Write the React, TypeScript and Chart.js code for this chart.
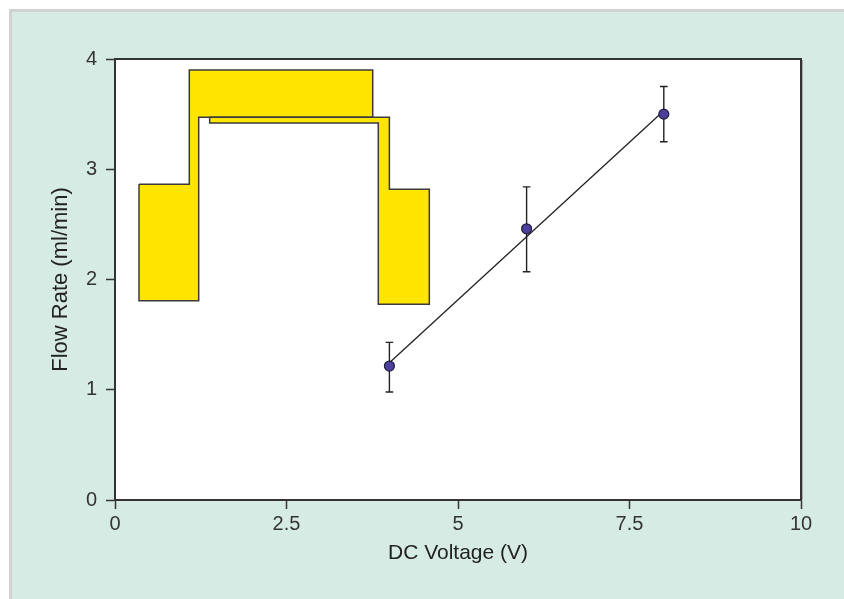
import React, { useEffect, useRef } from 'react';
import { Chart, registerables } from 'chart.js';

Chart.register(...registerables);

// Measurements
const voltage = [4, 6, 8];
const flowRate = [1.215, 2.46, 3.5];
const errLow = [0.98, 2.07, 3.25];
const errHigh = [1.43, 2.84, 3.75];

// Linear fit line
const fitX = [4, 8];
const fitY = [1.245, 3.53];

// Tick labels
const xTicks = [0, 2.5, 5, 7.5, 10];
const yTicks = [0, 1, 2, 3, 4];

// Pump illustration outline (data coordinates)
const pumpLeftX = [0.35, 1.083, 1.083, 3.757, 3.757, 1.22, 1.22, 0.35, 0.35];
const pumpLeftY = [2.864, 2.864, 3.9, 3.9, 3.471, 3.471, 1.808, 1.808, 2.864];
const pumpRightX = [1.38, 4.0, 4.0, 4.582, 4.582, 3.838, 3.838, 1.38, 1.38];
const pumpRightY = [3.471, 3.471, 2.818, 2.818, 1.775, 1.775, 3.419, 3.419, 3.471];

const FONT = '"Liberation Sans", Arial, Helvetica, sans-serif';
const DARK = '#333333';

const toPts = (xs: number[], ys: number[]) => xs.map((x, i) => ({ x, y: ys[i] }));

const plotBgPlugin = {
  id: 'plotBg',
  beforeDraw(chart: any) {
    const { ctx, chartArea: a } = chart;
    ctx.save();
    ctx.fillStyle = '#ffffff';
    ctx.fillRect(a.left, a.top, a.right - a.left, a.bottom - a.top);
    ctx.restore();
  },
  afterDraw(chart: any) {
    const { ctx, chartArea: a } = chart;
    ctx.save();
    ctx.strokeStyle = '#a9a9a9';
    ctx.lineWidth = 1;
    ctx.beginPath();
    ctx.moveTo(a.right + 1.5, a.top + 1);
    ctx.lineTo(a.right + 1.5, a.bottom);
    ctx.stroke();
    ctx.strokeStyle = DARK;
    ctx.lineWidth = 2;
    ctx.strokeRect(a.left, a.top, a.right - a.left, a.bottom - a.top);
    ctx.restore();
  },
};

const polyFillPlugin = {
  id: 'polyFill',
  beforeDatasetDraw(chart: any, args: any) {
    const ds = chart.data.datasets[args.index];
    if (!ds.polyFill) return;
    const pts = args.meta.data;
    if (!pts.length) return;
    const ctx = chart.ctx;
    ctx.save();
    ctx.fillStyle = ds.polyFill;
    ctx.beginPath();
    ctx.moveTo(pts[0].x, pts[0].y);
    for (let i = 1; i < pts.length; i++) ctx.lineTo(pts[i].x, pts[i].y);
    ctx.closePath();
    ctx.fill();
    ctx.restore();
  },
};

const errorBarPlugin = {
  id: 'errorBars',
  beforeDatasetsDraw(chart: any) {
    const { ctx, scales } = chart;
    const xs = scales.x;
    const ys = scales.y;
    ctx.save();
    ctx.strokeStyle = '#222222';
    ctx.lineWidth = 1.4;
    voltage.forEach((v, i) => {
      const px = xs.getPixelForValue(v);
      const top = ys.getPixelForValue(errHigh[i]);
      const bot = ys.getPixelForValue(errLow[i]);
      const cap = 3.8;
      ctx.beginPath();
      ctx.moveTo(px, top);
      ctx.lineTo(px, bot);
      ctx.moveTo(px - cap, top);
      ctx.lineTo(px + cap, top);
      ctx.moveTo(px - cap, bot);
      ctx.lineTo(px + cap, bot);
      ctx.stroke();
    });
    ctx.restore();
  },
};

export default function App() {
  const ref = useRef<HTMLCanvasElement | null>(null);

  useEffect(() => {
    if (!ref.current) return;
    const chart = new Chart(ref.current, {
      type: 'scatter',
      data: {
        datasets: [
          {
            label: 'Flow rate',
            data: toPts(voltage, flowRate),
            showLine: false,
            pointRadius: 5,
            pointBackgroundColor: '#4d3f9c',
            pointBorderColor: '#1e1e3a',
            pointBorderWidth: 1.2,
            order: 0,
          } as any,
          {
            label: 'Fit',
            data: toPts(fitX, fitY),
            showLine: true,
            borderColor: '#222222',
            borderWidth: 1.3,
            pointRadius: 0,
            fill: false,
            order: 1,
          } as any,
          {
            label: 'Pump right',
            data: toPts(pumpRightX, pumpRightY),
            showLine: true,
            borderColor: '#3a3a3a',
            borderWidth: 1.5,
            borderJoinStyle: 'miter',
            pointRadius: 0,
            fill: false,
            tension: 0,
            polyFill: '#ffe500',
            order: 2,
          } as any,
          {
            label: 'Pump left',
            data: toPts(pumpLeftX, pumpLeftY),
            showLine: true,
            borderColor: '#3a3a3a',
            borderWidth: 1.5,
            borderJoinStyle: 'miter',
            pointRadius: 0,
            fill: false,
            tension: 0,
            polyFill: '#ffe500',
            order: 3,
          } as any,
        ],
      },
      options: {
        animation: false,
        responsive: false,
        devicePixelRatio: 1,
        layout: { padding: { left: 48, top: 59, right: 43, bottom: 33 } },
        plugins: {
          legend: { display: false },
          tooltip: { enabled: false },
        },
        scales: {
          x: {
            type: 'linear',
            min: 0,
            max: 10,
            afterBuildTicks: (s: any) => {
              s.ticks = xTicks.map((v) => ({ value: v }));
            },
            afterFit: (s: any) => {
              s.height = 66;
            },
            ticks: {
              color: DARK,
              padding: 3,
              font: { family: FONT, size: 20 },
              callback: (v: any) => String(v),
            },
            grid: {
              display: true,
              drawOnChartArea: false,
              drawTicks: true,
              tickLength: 9,
              tickColor: DARK,
              tickWidth: 1.5,
            },
            border: { display: true, color: DARK, width: 2 },
            title: {
              display: true,
              text: 'DC Voltage (V)',
              color: '#222222',
              padding: { top: 0, bottom: 0 },
              font: { family: FONT, size: 21 },
            },
          },
          y: {
            type: 'linear',
            min: 0,
            max: 4,
            afterBuildTicks: (s: any) => {
              s.ticks = yTicks.map((v) => ({ value: v }));
            },
            afterFit: (s: any) => {
              s.width = 67;
            },
            ticks: {
              color: DARK,
              padding: 9,
              font: { family: FONT, size: 20 },
              callback: (v: any) => String(v),
            },
            grid: {
              display: true,
              drawOnChartArea: false,
              drawTicks: true,
              tickLength: 9,
              tickColor: DARK,
              tickWidth: 1.5,
            },
            border: { display: true, color: DARK, width: 2 },
            title: {
              display: true,
              text: 'Flow Rate (ml/min)',
              color: '#222222',
              padding: { top: 0, bottom: 0 },
              font: { family: FONT, size: 22 },
            },
          },
        },
      } as any,
      plugins: [plotBgPlugin, polyFillPlugin, errorBarPlugin],
    });
    return () => chart.destroy();
  }, []);

  return (
    <div
      style={{
        position: 'fixed',
        left: 0,
        top: 0,
        width: 844,
        height: 599,
        background: '#ffffff',
        overflow: 'hidden',
      }}
    >
      <div
        style={{
          position: 'absolute',
          left: 9,
          top: 9,
          right: 0,
          bottom: 0,
          background: '#d7ebe5',
          borderLeft: '3px solid #d2d2d2',
          borderTop: '3px solid #d2d2d2',
        }}
      />
      <canvas
        ref={ref}
        width={844}
        height={599}
        style={{ position: 'absolute', left: 0, top: 0, width: 844, height: 599 }}
      />
    </div>
  );
}
